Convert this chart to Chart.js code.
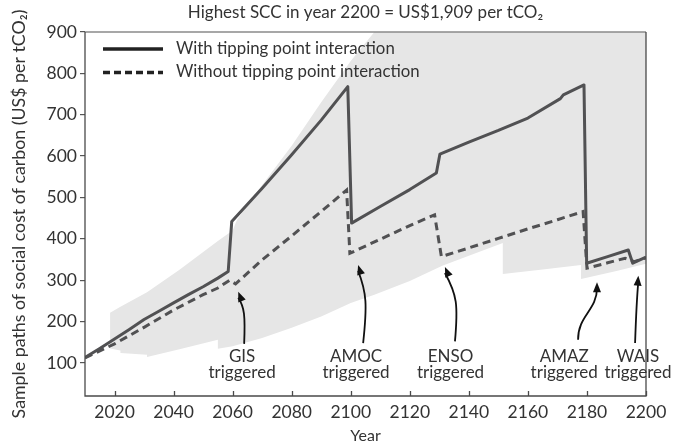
<!DOCTYPE html>
<html>
<head>
<meta charset="utf-8">
<script src="https://cdn.jsdelivr.net/npm/chart.js@4.4.1/dist/chart.umd.min.js"></script>
<style>
  html, body { margin: 0; padding: 0; background: #fff; }
  #wrap { width: 685px; height: 445px; position: relative; }
</style>
</head>
<body>
<div id="wrap"><canvas id="c" width="685" height="445"></canvas></div>
<script>
// Sample SCC path with tipping point interaction (US$ per tCO2)
const yearsWith = [2010, 2015, 2020, 2025, 2030, 2035, 2040, 2045, 2050, 2055, 2058.5, 2059.7,
  2070, 2080, 2090, 2099, 2100.3, 2110, 2120, 2129, 2130.2, 2140, 2150, 2160, 2171, 2172,
  2179, 2179.9, 2187, 2194, 2195.5, 2200];
const sccWith = [113, 135, 158, 181, 205, 225, 245, 265, 284, 305, 321, 442,
  522, 603, 687, 768, 438, 478, 519, 559, 605, 634, 662, 692, 739, 748,
  772, 341, 357, 373, 341, 356];

// Sample SCC path without tipping point interaction
const yearsWithout = [2010, 2020, 2030, 2040, 2050, 2055, 2059, 2061, 2070, 2080, 2090, 2098.6,
  2099.7, 2110, 2120, 2128.4, 2130.7, 2140, 2150, 2160, 2170, 2178.7, 2180, 2187, 2192.9, 2196, 2200];
const sccWithout = [112, 146, 186, 228, 265, 281, 300, 291, 349, 407, 466, 518,
  365, 399, 432, 458, 357, 378, 401, 424, 446, 466, 329, 342, 353, 345, 354];

// Envelope of the sampled paths
const shadeYears = [2018.5, 2022, 2022, 2031, 2031, 2042, 2055, 2055, 2060, 2061.5, 2070, 2080,
  2090, 2100, 2108, 2120, 2131, 2151.5, 2151.5, 2165, 2178, 2178, 2190, 2200];
const shadeUpper = [221, 236, 236, 271, 271, 325, 395, 395, 420, 446, 530, 625,
  730, 830, 900, 900, 900, 900, 900, 900, 900, 900, 900, 900];
const shadeLower = [135, 130, 124, 120, 114, 133, 156, 134, 140, 143, 160, 185,
  212, 245, 265, 298, 335, 390, 315, 326, 337, 303, 322, 340];

const xTicks = [2020, 2040, 2060, 2080, 2100, 2120, 2140, 2160, 2180, 2200];
const yTicks = [100, 200, 300, 400, 500, 600, 700, 800, 900];

const FONT = 'Lato, "Open Sans", sans-serif';
const TEXT = '#333333';
const LINE = '#515153';
const TITLE = 'Highest SCC in year 2200 = US$1,909 per tCO\u2082';

const pts = (xs, ys) => xs.map((x, i) => ({ x: x, y: ys[i] }));

// Tipping-point callouts, placed in data units (year, US$)
const callouts = [
  { lines: ['GIS', 'triggered'], at: 2063.2, path: [[2063.9, 146], [2064.3, 215], [2064.0, 235], [2061.9, 272]] },
  { lines: ['AMOC', 'triggered'], at: 2101.8, path: [[2104.2, 148], [2105.6, 240], [2105.4, 270], [2102.5, 337]] },
  { lines: ['ENSO', 'triggered'], at: 2133.8, path: [[2135.3, 152], [2136.4, 240], [2136.0, 265], [2131.9, 332]] },
  { lines: ['AMAZ', 'triggered'], at: 2172.3, path: [[2177.0, 156], [2176.9, 214], [2183.4, 227], [2183.4, 295]] },
  { lines: ['WAIS', 'triggered'], at: 2197.3, path: [[2196.3, 148], [2196.6, 210], [2196.8, 250], [2197.4, 311]] }
];

const decor = {
  id: 'decor',
  afterDatasetsDraw(chart) {
    const { ctx, chartArea: a, scales: { x, y } } = chart;
    ctx.save();
    // frame
    ctx.lineWidth = 1.3;
    ctx.strokeStyle = '#8a8a8a';
    ctx.beginPath();
    ctx.moveTo(a.left, a.top); ctx.lineTo(a.right, a.top);
    ctx.stroke();
    ctx.strokeStyle = '#4a4a4a';
    ctx.beginPath();
    ctx.moveTo(a.right, a.top); ctx.lineTo(a.right, a.bottom);
    ctx.lineTo(a.left, a.bottom); ctx.lineTo(a.left, a.top);
    ctx.stroke();
    // inward ticks on the year axis
    ctx.beginPath();
    xTicks.forEach(v => {
      const px = Math.round(x.getPixelForValue(v)) + 0.5;
      ctx.moveTo(px, a.bottom); ctx.lineTo(px, a.bottom - 5);
    });
    ctx.stroke();

    // heading, centred over the plot area
    ctx.fillStyle = TEXT;
    ctx.font = '17px ' + FONT;
    ctx.textAlign = 'center';
    ctx.textBaseline = 'middle';
    ctx.fillText(TITLE, (a.left + a.right) / 2, 13);

    // legend
    ctx.strokeStyle = '#222';
    ctx.lineWidth = 3.5;
    ctx.beginPath(); ctx.moveTo(103, 49); ctx.lineTo(163, 49); ctx.stroke();
    ctx.setLineDash([7, 4]);
    ctx.beginPath(); ctx.moveTo(103, 72.5); ctx.lineTo(163, 72.5); ctx.stroke();
    ctx.setLineDash([]);
    ctx.fillStyle = TEXT;
    ctx.font = '16.8px ' + FONT;
    ctx.textAlign = 'left';
    ctx.fillText('With tipping point interaction', 176, 48.5);
    ctx.fillText('Without tipping point interaction', 176, 72);

    // callouts
    ctx.lineWidth = 1.8;
    callouts.forEach(c => {
      ctx.strokeStyle = '#111';
      ctx.fillStyle = '#111';
      const p = c.path.map(q => [x.getPixelForValue(q[0]), y.getPixelForValue(q[1])]);
      ctx.beginPath();
      ctx.moveTo(p[0][0], p[0][1]);
      ctx.bezierCurveTo(p[1][0], p[1][1], p[2][0], p[2][1], p[3][0], p[3][1] + 6);
      ctx.stroke();
      const ang = Math.atan2(p[3][1] - p[2][1], p[3][0] - p[2][0]);
      const L = 10, W = 4;
      const tx = p[3][0], ty = p[3][1];
      ctx.beginPath();
      ctx.moveTo(tx, ty);
      ctx.lineTo(tx - L * Math.cos(ang) + W * Math.sin(ang), ty - L * Math.sin(ang) - W * Math.cos(ang));
      ctx.lineTo(tx - L * Math.cos(ang) - W * Math.sin(ang), ty - L * Math.sin(ang) + W * Math.cos(ang));
      ctx.closePath();
      ctx.fill();
      ctx.fillStyle = TEXT;
      ctx.font = '17px ' + FONT;
      ctx.textAlign = 'center';
      const cx = x.getPixelForValue(c.at);
      ctx.fillText(c.lines[0], cx, 357);
      ctx.fillText(c.lines[1], cx, 373);
    });
    ctx.restore();
  }
};

new Chart(document.getElementById('c'), {
  type: 'line',
  data: {
    datasets: [
      {
        label: 'With tipping point interaction',
        data: pts(yearsWith, sccWith),
        borderColor: LINE, borderWidth: 3, pointRadius: 0, fill: false, tension: 0,
        borderJoinStyle: 'round'
      },
      {
        label: 'Without tipping point interaction',
        data: pts(yearsWithout, sccWithout),
        borderColor: LINE, borderWidth: 3, borderDash: [8, 5], pointRadius: 0, fill: false, tension: 0
      },
      {
        label: 'upper',
        data: pts(shadeYears, shadeUpper),
        borderWidth: 0, pointRadius: 0, backgroundColor: '#e6e6e6', fill: '+1', tension: 0
      },
      {
        label: 'lower',
        data: pts(shadeYears, shadeLower),
        borderWidth: 0, pointRadius: 0, fill: false, tension: 0
      }
    ]
  },
  options: {
    responsive: false,
    animation: false,
    devicePixelRatio: 1,
    layout: { padding: { left: 0, right: 39, top: 32, bottom: 0 } },
    plugins: {
      legend: { display: false },
      tooltip: { enabled: false },
      title: { display: false }
    },
    scales: {
      x: {
        type: 'linear', min: 2010, max: 2200,
        afterBuildTicks: s => { s.ticks = xTicks.map(v => ({ value: v })); },
        afterFit: s => { s.height = 49; },
        grid: { display: false, drawTicks: false },
        border: { display: false },
        ticks: {
          font: { family: FONT, size: 17.5 }, color: TEXT, padding: 6, maxRotation: 0, autoSkip: false,
          callback: v => String(v)
        },
        title: { display: true, text: 'Year', font: { family: FONT, size: 16 }, color: TEXT, padding: { top: 4, bottom: 0 } }
      },
      y: {
        type: 'linear', min: 20, max: 900,
        afterBuildTicks: s => { s.ticks = yTicks.map(v => ({ value: v })); },
        afterFit: s => { s.width = 85; },
        grid: { drawOnChartArea: false, drawTicks: true, tickLength: 5, color: '#555', lineWidth: 1.2 },
        border: { display: false },
        ticks: { font: { family: FONT, size: 17.5 }, color: TEXT, padding: 3, callback: v => String(v) },
        title: {
          display: true, text: 'Sample paths of social cost of carbon (US$ per tCO\u2082)',
          font: { family: FONT, size: 17.8 }, color: TEXT, padding: { top: 9, bottom: 0 }
        }
      }
    }
  },
  plugins: [decor]
});
</script>
</body>
</html>
